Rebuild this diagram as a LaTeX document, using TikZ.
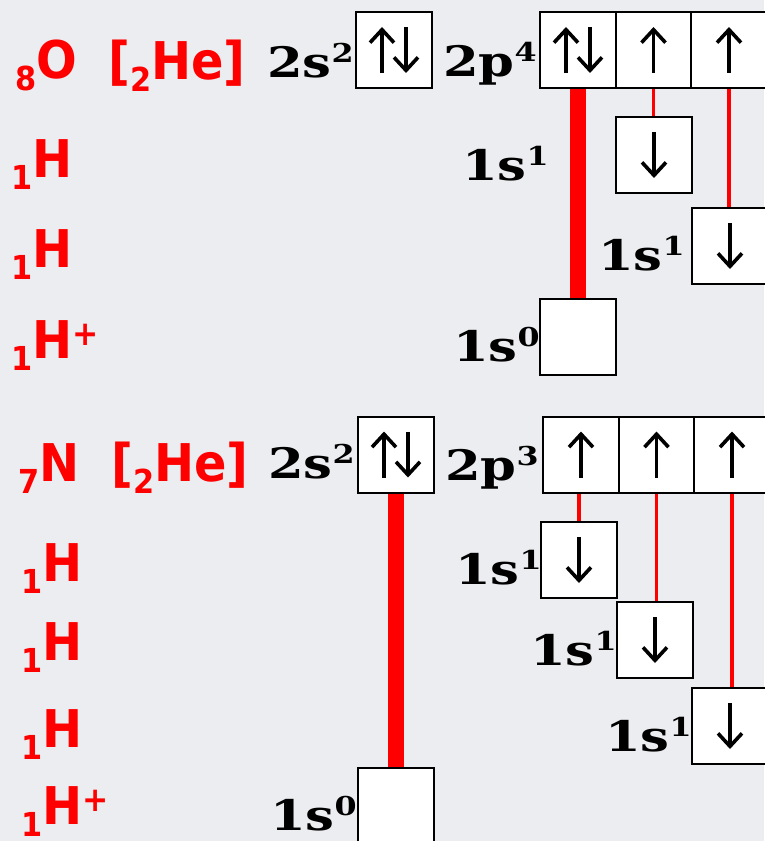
\documentclass[tikz,border=0pt]{standalone}
\usepackage{fontspec}
\usetikzlibrary{arrows.meta}
\newfontfamily\redf[FakeStretch=0.92]{DejaVu Sans}
\newfontfamily\blkf[FakeStretch=1.22]{DejaVu Serif}
\definecolor{marble}{RGB}{236,237,240}
\definecolor{chemred}{RGB}{255,0,0}
\newcommand{\rsub}[1]{\raisebox{-12pt}{\fontsize{33}{33}\selectfont #1}}
\newcommand{\rsup}[1]{\raisebox{13pt}{\fontsize{34}{34}\selectfont #1}}
\newcommand{\bsup}[1]{\raisebox{15pt}{\fontsize{26}{26}\selectfont #1}}
\begin{document}
\begin{tikzpicture}[x=1pt,y=-1pt,
 redlab/.style={anchor=base west, inner sep=0pt, text=chemred, font=\redf\bfseries\fontsize{52}{52}\selectfont},
 blklab/.style={anchor=base east, inner sep=0pt, font=\blkf\bfseries\fontsize{42}{42}\selectfont},
 orb/.style={draw=black, line width=2pt, fill=white, minimum width=76pt, minimum height=76pt, inner sep=0pt, outer sep=0pt},
 arrw/.style={line width=3.6pt, -{Straight Barb[length=13pt,width=24pt]}},
 bond/.style={draw=chemred, line width=3.5pt},
 bigbond/.style={draw=chemred, line width=16pt}]
\useasboundingbox (0,0) rectangle (764,841);
\fill[marble] (0,0) rectangle (764,841);
% ---------- top: oxygen ----------
\node[redlab] (oO) at (15,78) {\rsub{8}O};
\node[redlab] (oHe) at (108,79) {[\rsub{2}He]};
\node[redlab] (oH1) at (11,177) {\rsub{1}H};
\node[redlab] (oH2) at (11,267) {\rsub{1}H};
\node[redlab] (oH3) at (11,358) {\rsub{1}H\rsup{+}};
\node[orb] (os) at (394,50) {};
\node[orb] (op1) at (578,50) {};
\node[orb] (op2) at (653.5,50) {};
\node[orb] (op3) at (729,50) {};
\node[orb] (oh1) at (654,155) {};
\node[orb] (oh2) at (730,246) {};
\node[orb] (ohp) at (578,336.5) {};
\node[blklab] (ols) at (354,77) {2s\bsup{2}};
\node[blklab] (olp) at (537,76) {2p\bsup{4}};
\node[blklab] (olh1) at (549,180) {1s\bsup{1}};
\node[blklab] (olh2) at (685,270) {1s\bsup{1}};
\node[blklab] (olhp) at (540,361) {1s\bsup{0}};
\draw[bigbond, shorten <=1pt, shorten >=1pt] (op1.south) -- (op1.south |- ohp.north);
\draw[bond, shorten <=1pt, shorten >=1pt] (op2.south) -- (op2.south |- oh1.north);
\draw[bond, shorten <=1pt, shorten >=1pt] (op3.south) -- (op3.south |- oh2.north);
\foreach \b in {os,op1}{
  \draw[arrw] ([xshift=-12pt,yshift=-23pt]\b.center) -- ([xshift=-12pt,yshift=23pt]\b.center);
  \draw[arrw] ([xshift=12pt,yshift=23pt]\b.center) -- ([xshift=12pt,yshift=-23pt]\b.center);
}
\foreach \b in {op2,op3}{
  \draw[arrw] ([yshift=-23pt]\b.center) -- ([yshift=23pt]\b.center);
}
\foreach \b in {oh1,oh2}{
  \draw[arrw] ([yshift=23pt]\b.center) -- ([yshift=-23pt]\b.center);
}
% ---------- bottom: nitrogen ----------
\node[redlab] (nN) at (18,481) {\rsub{7}N};
\node[redlab] (nHe) at (111,481) {[\rsub{2}He]};
\node[redlab] (nH1) at (21,581) {\rsub{1}H};
\node[redlab] (nH2) at (21,660) {\rsub{1}H};
\node[redlab] (nH3) at (21,747) {\rsub{1}H};
\node[redlab] (nH4) at (21,824) {\rsub{1}H\rsup{+}};
\node[orb] (ns) at (396,454.5) {};
\node[orb] (np1) at (581,454.5) {};
\node[orb] (np2) at (656.5,454.5) {};
\node[orb] (np3) at (732,454.5) {};
\node[orb] (nh1) at (579,560) {};
\node[orb] (nh2) at (655,640) {};
\node[orb] (nh3) at (730,726) {};
\node[orb] (nhp) at (395.5,806) {};
\node[blklab] (nls) at (355,478) {2s\bsup{2}};
\node[blklab] (nlp) at (539,480) {2p\bsup{3}};
\node[blklab] (nlh1) at (542,584) {1s\bsup{1}};
\node[blklab] (nlh2) at (617,665) {1s\bsup{1}};
\node[blklab] (nlh3) at (692,751) {1s\bsup{1}};
\node[blklab] (nlhp) at (357,830) {1s\bsup{0}};
\draw[bigbond, shorten <=1pt, shorten >=1pt] (ns.south) -- (ns.south |- nhp.north);
\draw[bond, shorten <=1pt, shorten >=1pt] (nh1.north |- np1.south) -- (nh1.north);
\draw[bond, shorten <=1pt, shorten >=1pt] (np2.south) -- (np2.south |- nh2.north);
\draw[bond, shorten <=1pt, shorten >=1pt] (np3.south) -- (np3.south |- nh3.north);
\draw[arrw] ([xshift=-12pt,yshift=-23pt]ns.center) -- ([xshift=-12pt,yshift=23pt]ns.center);
\draw[arrw] ([xshift=12pt,yshift=23pt]ns.center) -- ([xshift=12pt,yshift=-23pt]ns.center);
\foreach \b in {np1,np2,np3}{
  \draw[arrw] ([yshift=-23pt]\b.center) -- ([yshift=23pt]\b.center);
}
\foreach \b in {nh1,nh2,nh3}{
  \draw[arrw] ([yshift=23pt]\b.center) -- ([yshift=-23pt]\b.center);
}
\end{tikzpicture}
\end{document}
